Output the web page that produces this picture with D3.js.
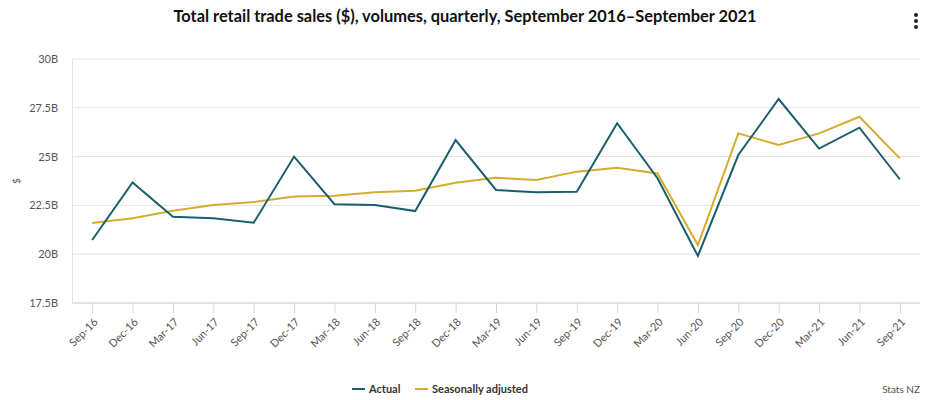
<!DOCTYPE html>
<html>
<head>
<meta charset="utf-8">
<script src="https://cdn.jsdelivr.net/npm/d3@7"></script>
<style>
  body { margin: 0; background: #fff; }
  svg text { font-family: Lato, "Open Sans", sans-serif; }
</style>
</head>
<body>
<div id="chart"></div>
<script>
// quarters shown on the x axis
var quarters = ["Sep-16", "Dec-16", "Mar-17", "Jun-17", "Sep-17", "Dec-17", "Mar-18", "Jun-18",
    "Sep-18", "Dec-18", "Mar-19", "Jun-19", "Sep-19", "Dec-19", "Mar-20", "Jun-20",
    "Sep-20", "Dec-20", "Mar-21", "Jun-21", "Sep-21"];

// values in billions of dollars
var actual = [20.73, 23.68, 21.92, 21.84, 21.61, 25.0, 22.56, 22.52, 22.21, 25.85, 23.29,
    23.17, 23.2, 26.71, 23.89, 19.91, 25.08, 27.95, 25.41, 26.48, 23.84];
var seasonal = [21.6, 21.84, 22.23, 22.52, 22.67, 22.95, 23.0, 23.17, 23.25, 23.66, 23.92,
    23.8, 24.23, 24.43, 24.14, 20.47, 26.19, 25.59, 26.19, 27.04, 24.91];

var yTicks = [17.5, 20, 22.5, 25, 27.5, 30];

var series = [
    { name: "Actual", values: actual, color: "#1a5e6e" },
    { name: "Seasonally adjusted", values: seasonal, color: "#d4ad2f" }
];

var width = 930, height = 400;
var margin = { top: 59, right: 10, bottom: 97, left: 72 };

var svg = d3.select("#chart")
    .append("svg")
    .attr("width", width)
    .attr("height", height);

var x = d3.scalePoint()
    .domain(quarters)
    .range([margin.left, width - margin.right])
    .padding(0.5);

var y = d3.scaleLinear()
    .domain([17.5, 30])
    .range([height - margin.bottom, margin.top]);

// title
svg.append("text")
    .attr("x", 465)
    .attr("y", 22)
    .attr("text-anchor", "middle")
    .style("font-size", "16.4px")
    .style("font-weight", "bold")
    .style("fill", "#111")
    .text("Total retail trade sales ($), volumes, quarterly, September 2016\u2013September 2021");

// menu dots
svg.append("g")
    .selectAll("circle")
    .data([15, 21, 27])
    .enter()
    .append("circle")
    .attr("cx", 916)
    .attr("cy", function (d) { return d; })
    .attr("r", 2)
    .style("fill", "#222");

// gridlines
svg.append("g")
    .selectAll("line")
    .data(yTicks)
    .enter()
    .append("line")
    .attr("x1", margin.left)
    .attr("x2", width - margin.right)
    .attr("y1", function (d) { return y(d); })
    .attr("y2", function (d) { return y(d); })
    .style("stroke", "#e3e3e3")
    .style("stroke-width", 1);

// y axis
var yAxis = svg.append("g")
    .attr("transform", "translate(" + margin.left + ",0)")
    .call(d3.axisLeft(y)
        .tickValues(yTicks)
        .tickSize(0)
        .tickPadding(14)
        .tickFormat(function (d) { return d + "B"; }));
yAxis.select(".domain").style("stroke", "#e3e3e3");
yAxis.selectAll("text")
    .style("font-size", "11px")
    .style("fill", "#555");

svg.append("text")
    .attr("transform", "translate(20," + y(23.75) + ") rotate(-90)")
    .attr("text-anchor", "middle")
    .style("font-size", "10px")
    .style("fill", "#555")
    .text("$");

// x axis
var xAxis = svg.append("g")
    .attr("transform", "translate(0," + (height - margin.bottom) + ")")
    .call(d3.axisBottom(x).tickSize(10).tickSizeOuter(0));
xAxis.select(".domain")
    .attr("d", "M" + margin.left + ",0H" + (width - margin.right))
    .style("stroke", "#ccd6e0");
xAxis.selectAll(".tick line").style("stroke", "#ccd6e0");
xAxis.selectAll("text")
    .style("font-size", "11px")
    .style("fill", "#555")
    .attr("text-anchor", "end")
    .attr("x", 0)
    .attr("y", 0)
    .attr("dy", "0.35em")
    .attr("transform", "translate(3,17) rotate(-45)");

// lines
var line = d3.line()
    .x(function (d, i) { return x(quarters[i]); })
    .y(function (d) { return y(d); });

svg.append("g")
    .selectAll("path")
    .data(series.slice().reverse())
    .enter()
    .append("path")
    .attr("d", function (d) { return line(d.values); })
    .style("fill", "none")
    .style("stroke", function (d) { return d.color; })
    .style("stroke-width", 2);

// legend
var legendX = [352, 415];
var legend = svg.append("g")
    .selectAll("g")
    .data(series)
    .enter()
    .append("g")
    .attr("transform", function (d, i) { return "translate(" + legendX[i] + ",389)"; });
legend.append("line")
    .attr("x1", 0).attr("x2", 13)
    .style("stroke", function (d) { return d.color; })
    .style("stroke-width", 2);
legend.append("text")
    .attr("x", 17)
    .attr("dy", "0.35em")
    .style("font-size", "11px")
    .style("font-weight", "bold")
    .style("fill", "#333")
    .text(function (d) { return d.name; });

// credit
svg.append("text")
    .attr("x", 920)
    .attr("y", 393)
    .attr("text-anchor", "end")
    .style("font-size", "10px")
    .style("fill", "#555")
    .text("Stats NZ");
</script>
</body>
</html>
